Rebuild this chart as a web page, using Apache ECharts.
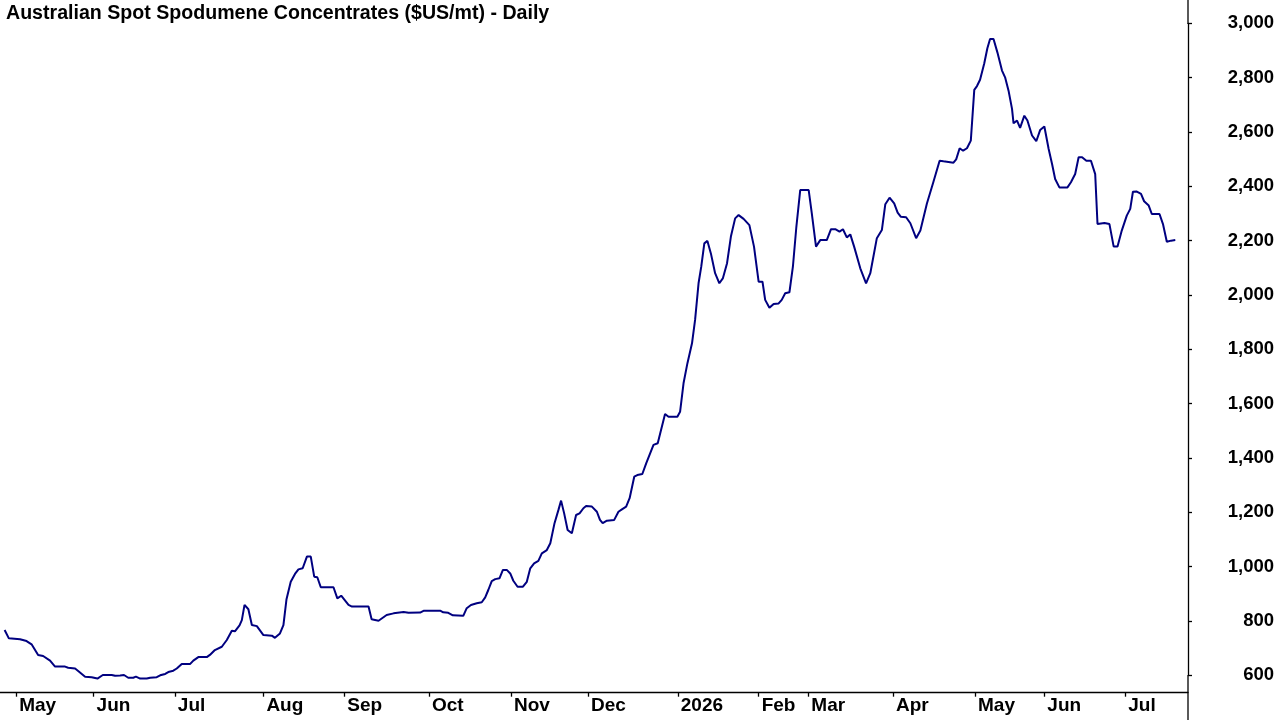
<!DOCTYPE html>
<html>
	<head>
		<meta charset="utf-8">
		<title>Australian Spot Spodumene Concentrates</title>
		<style type="text/css">
			html, body {
				margin: 0;
				padding: 0;
				background: #fff;
			}
			#main {
				width: 1280px;
				height: 720px;
			}
		</style>
	</head>
	<body>
		<div id="main"></div>
		<script src="https://cdn.jsdelivr.net/npm/echarts@6.0.0/dist/echarts.min.js" type="text/javascript"></script>
		<script type="text/javascript">
			// x = trading session number
			var sessions = [
				1.2, 2.3, 5.2, 6.9, 8.2, 9.9, 11.2, 13.0, 14.3, 16.9, 17.7, 19.5, 20.3, 22.1, 23.8, 25.3,
				26.7, 29.0, 29.9, 31.2, 32.2, 33.3, 34.6, 35.3, 36.4, 38.1, 39.0, 40.7, 41.6, 42.9, 43.7,
				45.0, 45.9, 47.2, 49.4, 50.2, 51.5, 53.7, 54.5, 55.8, 57.6, 58.9, 60.2, 61.0, 62.2, 62.8,
				63.5, 64.5, 65.4, 66.7, 68.4, 70.6, 71.4, 72.7, 73.6, 74.4, 75.5, 76.6, 77.5, 78.6, 79.7,
				80.7, 81.6, 82.4, 83.3, 86.6, 87.6, 88.6, 90.5, 91.4, 95.7, 96.5, 98.3, 100.4, 102.2, 104.8,
				106.1, 109.1, 110.1, 114.3, 115.1, 116.4, 117.6, 120.3, 121.2, 122.3, 123.8, 125.1, 126.0,
				126.8, 127.7, 128.6, 129.7, 130.6, 131.6, 132.5, 133.3, 134.4, 135.8, 136.8, 137.7, 138.7,
				139.8, 140.7, 142.0, 142.9, 144.0, 145.0, 145.7, 146.5, 147.4, 148.5, 149.6, 150.5, 151.5,
				152.2, 153.7, 155.0, 155.8, 156.5, 157.6, 159.5, 160.6, 161.5, 162.6, 163.5, 164.7, 165.5,
				166.8, 167.8, 169.7, 170.8, 172.7, 173.6, 175.9, 176.6, 177.5, 178.5, 179.7, 180.5, 181.4,
				182.1, 182.9, 183.7, 184.6, 185.7, 186.8, 187.7, 188.8, 189.8, 190.9, 191.8, 193.1, 194.6,
				195.8, 197.0, 198.0, 198.7, 199.8, 200.9, 202.2, 203.0, 203.9, 205.0, 205.9, 206.8, 207.8,
				210.0, 210.8, 211.9, 213.0, 214.7, 215.8, 216.9, 218.0, 218.9, 219.9, 220.8, 221.8, 223.4,
				224.9, 226.0, 227.7, 229.0, 229.9, 231.0, 232.2, 233.1, 233.9, 235.3, 236.4, 237.9, 239.0,
				240.7, 242.4, 244.0, 245.0, 247.6, 248.3, 249.2, 250.1, 251.1, 252.1, 253.0, 253.7, 254.5,
				255.6, 256.4, 257.1, 258.0, 259.0, 260.2, 261.0, 261.9, 262.8, 263.2, 264.1, 264.9, 266.0,
				266.8, 268.0, 269.1, 270.1, 271.2, 272.3, 273.2, 274.0, 275.1, 277.2, 278.1, 279.2, 280.1,
				281.0, 282.1, 283.3, 284.4, 285.0, 286.8, 288.1, 289.2, 290.2, 291.3, 292.6, 293.5, 294.2,
				295.1, 296.3, 297.1, 298.3, 299.1, 301.1, 302.0, 303.0, 304.1, 305.2
			];

			// $US/mt
			var prices = [
				767, 736, 733, 726, 714, 675, 671, 654, 632, 632, 628, 625, 616, 595, 593, 588,
				601, 601, 598, 599, 601, 591, 591, 595, 588, 588, 591, 593, 600, 605, 612,
				617, 625, 642, 642, 654, 667, 667, 675, 693, 705, 730, 764, 762, 784, 803,
				859, 843, 785, 781, 748, 746, 738, 754, 785, 880, 944, 973, 990, 994, 1037,
				1037, 963, 961, 924, 924, 883, 893, 859, 853, 853, 806, 801, 822, 828, 833,
				830, 831, 838, 838, 832, 830, 821, 819, 847, 859, 865, 869, 887,
				914, 947, 954, 957, 988, 988, 975, 948, 926, 926, 944, 994, 1012,
				1021, 1049, 1061, 1086, 1160, 1208, 1243, 1196, 1135, 1123, 1190, 1196, 1215,
				1223, 1221, 1202, 1172, 1160, 1169, 1172, 1202, 1211, 1221, 1252, 1331, 1337,
				1341, 1380, 1448, 1454, 1562, 1552, 1552, 1570, 1675, 1748, 1822, 1908, 2043,
				2104, 2190, 2199, 2153, 2080, 2043, 2061, 2117, 2215, 2282, 2294, 2280, 2257,
				2178, 2049, 2049, 1982, 1953, 1967, 1969, 1982, 2006, 2010, 2104, 2251, 2386,
				2386, 2301, 2178, 2202, 2202, 2242, 2242, 2233, 2242, 2212, 2223, 2178, 2098,
				2043, 2080, 2209, 2239, 2334, 2358, 2337, 2303, 2288, 2286, 2264, 2209, 2237,
				2337, 2417, 2494, 2492, 2487, 2499, 2540, 2531, 2540, 2568, 2755, 2769, 2792,
				2853, 2908, 2942, 2942, 2893, 2826, 2801, 2752, 2685, 2632, 2642, 2615, 2660,
				2642, 2587, 2566, 2607, 2620, 2538, 2482, 2427, 2396, 2396, 2415, 2445, 2507,
				2507, 2494, 2494, 2445, 2261, 2265, 2261, 2178, 2178, 2237, 2292, 2317, 2380,
				2381, 2372, 2345, 2329, 2298, 2298, 2261, 2196, 2200, 2202
			];

			var monthTicks = [4.2, 24.3, 45.4, 68.4, 89.4, 111.4, 132.7, 152.7, 176.0, 197.0, 209.9, 231.9, 253.2, 271.2, 292.2];
			var monthLabels = ['May', 'Jun', 'Jul', 'Aug', 'Sep', 'Oct', 'Nov', 'Dec', '2026', 'Feb', 'Mar', 'Apr', 'May', 'Jun', 'Jul'];
			var priceMin = 600, priceMax = 3000, priceStep = 200;

			var FONT = '"Liberation Sans", Arial, sans-serif';

			var points = sessions.map(function(s, i) {
				return [s, prices[i]];
			});

			var myChart = echarts.init(document.getElementById('main'));

			var option = {
				animation: false,
				backgroundColor: '#ffffff',
				title: {
					text: 'Australian Spot Spodumene Concentrates ($US/mt) - Daily',
					left: 6,
					top: 4,
					padding: 0,
					textStyle: {
						fontFamily: FONT,
						fontSize: 19.6,
						fontWeight: 'bold',
						color: '#000000'
					}
				},
				// grid spans the 600..3000 band; the axis frame is stretched out below
				grid: {
					left: 0,
					right: 92,
					top: 23.3,
					bottom: 44.7
				},
				xAxis: {
					type: 'value',
					min: 0,
					max: 308.5,
					offset: 17.4,
					splitLine: { show: false },
					axisLine: { onZero: false, lineStyle: { color: '#000000', width: 1.3 } },
					axisTick: {
						customValues: monthTicks,
						length: 4,
						lineStyle: { color: '#000000', width: 1.3 }
					},
					axisLabel: {
						customValues: monthTicks,
						align: 'left',
						margin: 4,
						padding: [0, 0, 0, 3],
						fontFamily: FONT,
						fontSize: 19,
						fontWeight: 'bold',
						color: '#000000',
						formatter: function(v) {
							return monthLabels[monthTicks.indexOf(v)];
						}
					}
				},
				yAxis: {
					type: 'value',
					position: 'right',
					min: priceMin,
					max: priceMax,
					interval: priceStep,
					splitLine: { show: false },
					axisLine: { show: true, onZero: false, lineStyle: { color: '#000000', width: 1.3 } },
					axisTick: {
						show: true,
						length: 4,
						lineStyle: { color: '#000000', width: 1.3 }
					},
					axisLabel: {
						align: 'right',
						margin: 86,
						fontFamily: FONT,
						fontSize: 18.5,
						fontWeight: 'bold',
						color: '#000000',
						formatter: function(v) {
							return v.toLocaleString('en-US');
						}
					}
				},
				graphic: [{
					type: 'line',
					shape: { x1: 1188, y1: 0, x2: 1188, y2: 24 },
					style: { stroke: '#000000', lineWidth: 1.3 }
				}, {
					type: 'line',
					shape: { x1: 1188, y1: 675, x2: 1188, y2: 720 },
					style: { stroke: '#000000', lineWidth: 1.3 }
				}],
				series: [{
					name: 'Spodumene',
					type: 'line',
					data: points,
					clip: false,
					showSymbol: false,
					smooth: false,
					lineStyle: { color: '#000080', width: 2 },
					itemStyle: { color: '#000080' }
				}]
			};
			myChart.setOption(option);
		</script>
	</body>
</html>
